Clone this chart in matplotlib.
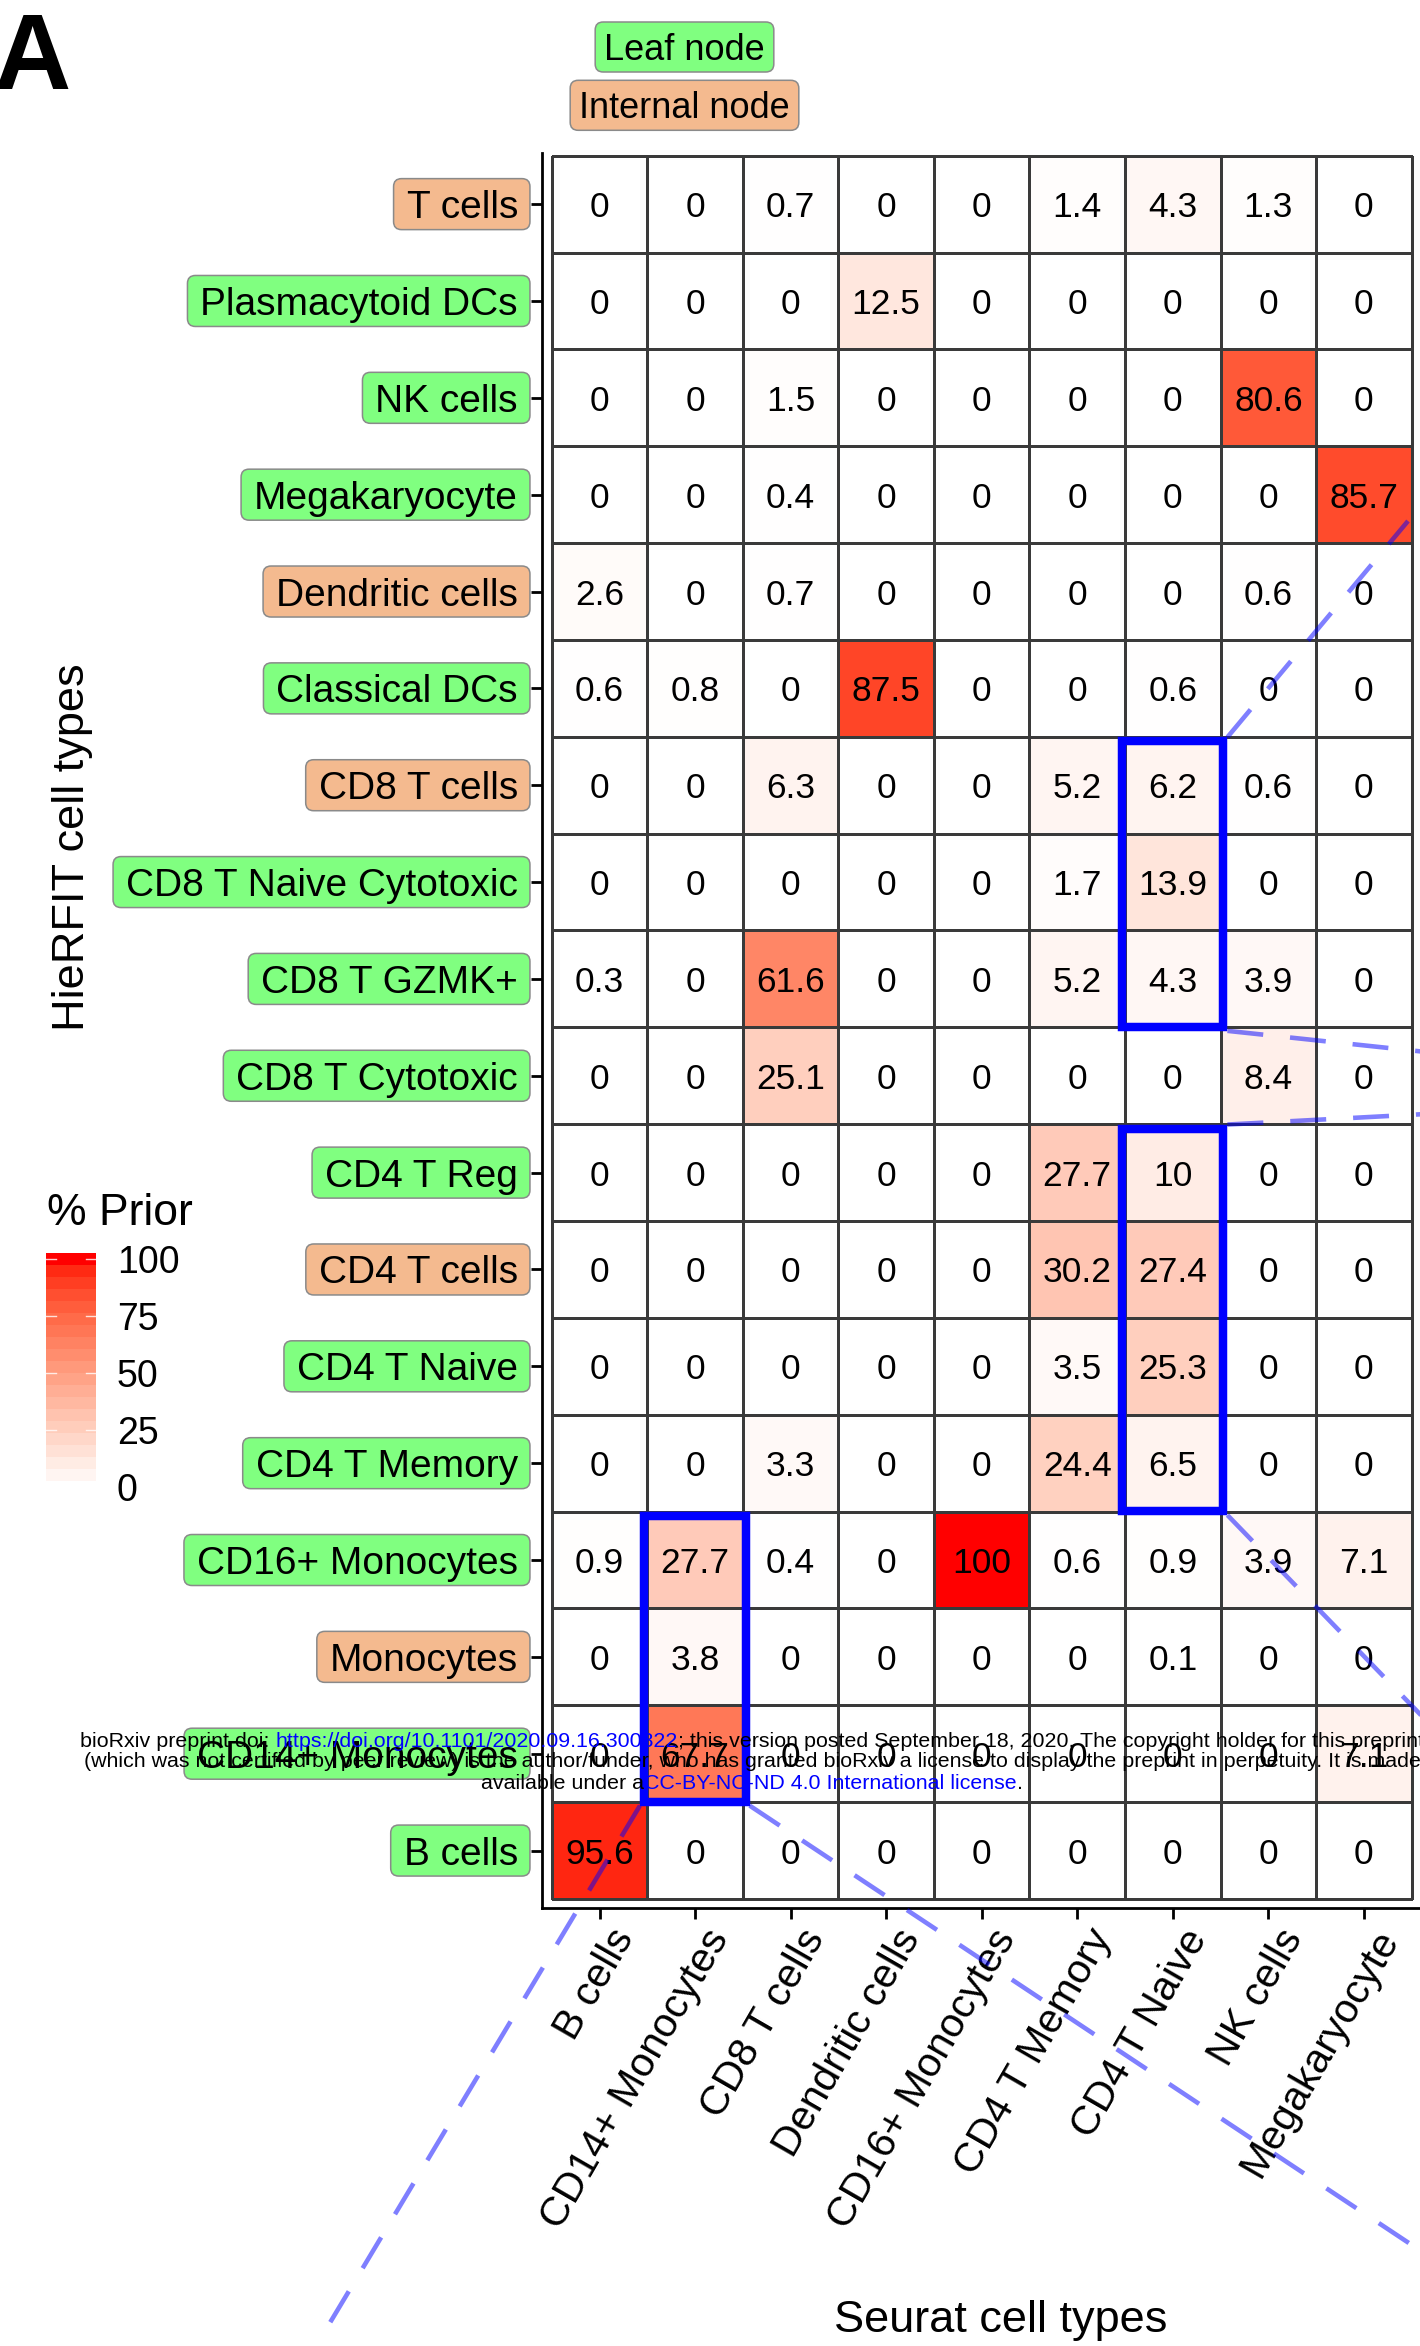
import numpy as np
import matplotlib
matplotlib.use("Agg")
import matplotlib.pyplot as plt
from matplotlib.patches import FancyBboxPatch, Rectangle
from matplotlib.colors import ListedColormap
from matplotlib.lines import Line2D
from matplotlib.transforms import IdentityTransform, blended_transform_factory, ScaledTranslation

plt.rcParams['font.family'] = ['Liberation Sans', 'DejaVu Sans']
plt.rcParams['lines.scale_dashes'] = False

# ---------------- data ----------------
seurat_types = ["B cells", "CD14+ Monocytes", "CD8 T cells", "Dendritic cells",
                "CD16+ Monocytes", "CD4 T Memory", "CD4 T Naive", "NK cells", "Megakaryocyte"]

# HieRFIT cell types, top to bottom
hierfit_types = ["T cells", "Plasmacytoid DCs", "NK cells", "Megakaryocyte", "Dendritic cells",
                 "Classical DCs", "CD8 T cells", "CD8 T Naive Cytotoxic", "CD8 T GZMK+",
                 "CD8 T Cytotoxic", "CD4 T Reg", "CD4 T cells", "CD4 T Naive", "CD4 T Memory",
                 "CD16+ Monocytes", "Monocytes", "CD14+ Monocytes", "B cells"]
node_kind = ["Internal", "Leaf", "Leaf", "Leaf", "Internal", "Leaf", "Internal", "Leaf", "Leaf",
             "Leaf", "Leaf", "Internal", "Leaf", "Leaf", "Leaf", "Internal", "Leaf", "Leaf"]

# % prior, rows follow hierfit_types, columns follow seurat_types
prior_pct = [
    [0,    0,    0.7,  0,    0,   1.4,  4.3,  1.3,  0],     # T cells
    [0,    0,    0,    12.5, 0,   0,    0,    0,    0],     # Plasmacytoid DCs
    [0,    0,    1.5,  0,    0,   0,    0,    80.6, 0],     # NK cells
    [0,    0,    0.4,  0,    0,   0,    0,    0,    85.7],  # Megakaryocyte
    [2.6,  0,    0.7,  0,    0,   0,    0,    0.6,  0],     # Dendritic cells
    [0.6,  0.8,  0,    87.5, 0,   0,    0.6,  0,    0],     # Classical DCs
    [0,    0,    6.3,  0,    0,   5.2,  6.2,  0.6,  0],     # CD8 T cells
    [0,    0,    0,    0,    0,   1.7,  13.9, 0,    0],     # CD8 T Naive Cytotoxic
    [0.3,  0,    61.6, 0,    0,   5.2,  4.3,  3.9,  0],     # CD8 T GZMK+
    [0,    0,    25.1, 0,    0,   0,    0,    8.4,  0],     # CD8 T Cytotoxic
    [0,    0,    0,    0,    0,   27.7, 10,   0,    0],     # CD4 T Reg
    [0,    0,    0,    0,    0,   30.2, 27.4, 0,    0],     # CD4 T cells
    [0,    0,    0,    0,    0,   3.5,  25.3, 0,    0],     # CD4 T Naive
    [0,    0,    3.3,  0,    0,   24.4, 6.5,  0,    0],     # CD4 T Memory
    [0.9,  27.7, 0.4,  0,    100, 0.6,  0.9,  3.9,  7.1],   # CD16+ Monocytes
    [0,    3.8,  0,    0,    0,   0,    0.1,  0,    0],     # Monocytes
    [0,    67.7, 0,    0,    0,   0,    0,    0,    7.1],   # CD14+ Monocytes
    [95.6, 0,    0,    0,    0,   0,    0,    0,    0],     # B cells
]
colorbar_ticks = [0, 25, 50, 75, 100]
legend_kinds = ["Leaf node", "Internal node"]

# highlighted blocks: (seurat column, first hierfit row, last hierfit row)
highlight_boxes = [("CD4 T Naive", "CD8 T cells", "CD8 T GZMK+"),
                   ("CD4 T Naive", "CD4 T Reg", "CD4 T Memory"),
                   ("CD14+ Monocytes", "CD16+ Monocytes", "CD14+ Monocytes")]

watermark_lines = [
    [("bioRxiv preprint doi: ", "black"),
     ("https://doi.org/10.1101/2020.09.16.300822", "blue"),
     ("; this version posted September 18, 2020. The copyright holder for this preprint", "black")],
    [("(which was not certified by peer review) is the author/funder, who has granted bioRxiv a license "
      "to display the preprint in perpetuity. It is made", "black")],
    [("available under a", "black"), ("CC-BY-NC-ND 4.0 International license", "blue"), (".", "black")],
]

# ---------------- colour scale (white -> red, CIELAB interpolation) ----------------
_M = np.array([[0.4124564, 0.3575761, 0.1804375],
               [0.2126729, 0.7151522, 0.0721750],
               [0.0193339, 0.1191920, 0.9503041]])
_WP = np.array([0.95047, 1.0, 1.08883])


def srgb_to_lab(rgb):
    rgb = np.asarray(rgb, float)
    lin = np.where(rgb <= 0.04045, rgb / 12.92, ((rgb + 0.055) / 1.055) ** 2.4)
    t = (_M @ lin) / _WP
    d = 6 / 29
    f = np.where(t > d ** 3, np.cbrt(t), t / (3 * d * d) + 4 / 29)
    return np.array([116 * f[1] - 16, 500 * (f[0] - f[1]), 200 * (f[1] - f[2])])


def lab_to_srgb(lab):
    L, a, b = lab
    fy = (L + 16) / 116
    fx = fy + a / 500
    fz = fy - b / 200
    d = 6 / 29
    finv = lambda f: np.where(f > d, f ** 3, 3 * d * d * (f - 4 / 29))
    xyz = np.array([finv(fx), finv(fy), finv(fz)]) * _WP
    lin = np.clip(np.linalg.inv(_M) @ xyz, 0, 1)
    s = np.where(lin <= 0.0031308, 12.92 * lin, 1.055 * lin ** (1 / 2.4) - 0.055)
    return np.clip(s, 0, 1)


lab_lo = srgb_to_lab([1, 1, 1])
lab_hi = srgb_to_lab([1, 0, 0])
cmap = ListedColormap([lab_to_srgb(lab_lo * (1 - t) + lab_hi * t) for t in np.linspace(0, 1, 256)])

# ---------------- figure ----------------
W, H, DPI = 1420, 2346, 100
fig = plt.figure(figsize=(W / DPI, H / DPI), dpi=DPI)
fig.patch.set_facecolor("white")


def fig_rect(x0, y0, x1, y1):
    return [x0 / W, 1 - y1 / H, (x1 - x0) / W, (y1 - y0) / H]


def px(x, y):
    """pixel coords with top-left origin -> display coords"""
    return x, H - y


ncol, nrow = len(seurat_types), len(hierfit_types)
vals = np.array(prior_pct, float)

ax = fig.add_axes(fig_rect(541.7, 152.7, 1421.7, 1907.7))
ax.set_xlim(-0.605, ncol - 0.395)
ax.set_ylim(-0.59, nrow - 0.469)
ax.set_facecolor("white")

xe = np.arange(ncol + 1) - 0.5
ye = np.arange(nrow + 1) - 0.5
ax.pcolormesh(xe, ye, vals[::-1], cmap=cmap, vmin=0, vmax=100,
              edgecolors="#3a3a3a", linewidth=0.9, zorder=1)

for r in range(nrow):
    yy = nrow - 1 - r
    for c in range(ncol):
        ax.text(c, yy, f"{vals[r, c]:g}", ha="center", va="center_baseline",
                fontsize=25.5, color="black", zorder=3)

# highlight rectangles
rects = []
for col, r0, r1 in highlight_boxes:
    c = seurat_types.index(col)
    i0, i1 = hierfit_types.index(r0), hierfit_types.index(r1)
    x0, x1 = c - 0.535, c + 0.53
    ytop = (nrow - 1 - i0) + 0.5 - 0.045
    ybot = (nrow - 1 - i1) - 0.5 + 0.005
    rect = Rectangle((x0, ybot), x1 - x0, ytop - ybot, fill=False, ec="blue",
                     lw=6.1, joinstyle="miter", zorder=5)
    ax.add_patch(rect)
    rects.append((x0, x1, ybot, ytop))

# axes styling
for s in ["top", "right"]:
    ax.spines[s].set_visible(False)
for s in ["left", "bottom"]:
    ax.spines[s].set_linewidth(2.0)
    ax.spines[s].set_color("black")
ax.set_xticks(range(ncol))
ax.set_yticks([nrow - 1 - r for r in range(nrow)])
ax.set_yticklabels(hierfit_types)
ax.tick_params(axis="both", length=8, width=2.0, color="black")
ax.tick_params(axis="x", labelbottom=False)
ax.tick_params(axis="y", pad=9.1, labelsize=28)

# rotated x labels
xtrans = blended_transform_factory(ax.transData, ax.transAxes) + \
    ScaledTranslation(0.087, -0.15, fig.dpi_scale_trans)
for c, name in enumerate(seurat_types):
    ax.text(c, 0, name, transform=xtrans, rotation=60, rotation_mode="anchor",
            ha="right", va="top", fontsize=29.5, clip_on=False)

# axis titles
fig.text(1001 / W, 1 - 2331.7 / H, "Seurat cell types", ha="center", va="baseline", fontsize=32.5)
fig.text(84 / W, 1 - 847 / H, "HieRFIT cell types", ha="center", va="baseline",
         rotation=90, rotation_mode="anchor", fontsize=32.5)

# panel letter
fig.text(-7 / W, 1 - 89.3 / H, "A", ha="left", va="baseline", fontsize=77, fontweight="bold")

# node-type legend
kind_color = {"Leaf": "#80FF80", "Internal": "#F4BA8F"}
leg_texts = []
for lab, yb in zip(legend_kinds, [60.0, 118.3]):
    t = fig.text(684.5 / W, 1 - yb / H, lab, ha="center", va="baseline", fontsize=26)
    leg_texts.append((t, kind_color[lab.split()[0]], yb))

# colour bar legend
fig.text(46.7 / W, 1 - 1225 / H, "% Prior", ha="left", va="baseline", fontsize=32)
cax = fig.add_axes(fig_rect(45.7, 1253, 95.7, 1493))
lo, hi = -2.63, 102.63
edges = np.linspace(lo, hi, 21)
centers = 0.5 * (edges[:-1] + edges[1:])
cax.pcolormesh([0, 1], edges, np.clip(centers, 0, 100)[:, None], cmap=cmap, vmin=0, vmax=100)
cax.set_xlim(0, 1)
cax.set_ylim(lo, hi)
cax.axis("off")
for v in colorbar_ticks:
    cax.plot([0, 0.2], [v, v], color="white", lw=1.0, alpha=0.8)
    cax.plot([0.8, 1], [v, v], color="white", lw=1.0, alpha=0.8)
    ydisp = cax.transData.transform((0, v))[1]
    fig.text(117 / W, ydisp / H, str(v), ha="left", va="center_baseline", fontsize=27)

# ---------------- label boxes ----------------
fig.canvas.draw()
renderer = fig.canvas.get_renderer()


def add_box(x0, y0, x1, y1, fc):
    p = FancyBboxPatch((x0, y0), x1 - x0, y1 - y0,
                       boxstyle="round,pad=0,rounding_size=8",
                       fc=fc, ec="#8a8a8a", lw=1.1, transform=IdentityTransform(), zorder=-1)
    fig.add_artist(p)


for lbl, kind, r in zip(ax.get_yticklabels(), node_kind, range(nrow)):
    bb = lbl.get_window_extent(renderer)
    cy = ax.transData.transform((0, nrow - 1 - r))[1]
    add_box(bb.x0 - 13, cy - 25.5, bb.x1 + 12, cy + 25.5, kind_color[kind])

for t, fc, yb in leg_texts:
    bb = t.get_window_extent(renderer)
    cy = H - (yb - 13)
    add_box(bb.x0 - 9, cy - 25, bb.x1 + 9, cy + 25, fc)

# ---------------- connector lines from highlighted boxes ----------------
connectors = [(0, "tr", (1408, 521)), (0, "br", (1445, 1054)), (1, "tr", (1445, 1113)),
              (1, "br", (1445, 1740)), (2, "br", (1445, 2267)), (2, "bl", (328, 2326))]
for bi, corner, end in connectors:
    x0, x1, yb, yt = rects[bi]
    cx = x1 if corner[1] == "r" else x0
    cy = yt if corner[0] == "t" else yb
    sx, sy = ax.transData.transform((cx, cy))
    sx += 4 if corner[1] == "r" else -4
    sy += 4 if corner[0] == "t" else -4
    ex, ey = px(*end)
    ln = Line2D([sx, ex], [sy, ey], transform=IdentityTransform(), color="blue", alpha=0.5,
                lw=3.3, linestyle=(0, (25.9, 19.4)), solid_capstyle="butt",
                dash_capstyle="butt", zorder=6)
    fig.add_artist(ln)

# ---------------- preprint watermark ----------------
wm_size = 15.4
probe = fig.text(0, 0, "x", fontsize=wm_size)


def text_width(s):
    probe.set_text(s + "x")
    w1 = probe.get_window_extent(renderer).width
    probe.set_text("x")
    return w1 - probe.get_window_extent(renderer).width


for segs, yb in zip(watermark_lines, [1746.7, 1767.3, 1789.0]):
    widths = [text_width(s) for s, _ in segs]
    x = 752 - sum(widths) / 2
    for (s, col), w in zip(segs, widths):
        fig.text(x / W, 1 - yb / H, s, color=col, fontsize=wm_size, ha="left",
                 va="baseline", zorder=10)
        x += w
probe.remove()

fig.savefig("out.png", dpi=DPI, facecolor="white")
